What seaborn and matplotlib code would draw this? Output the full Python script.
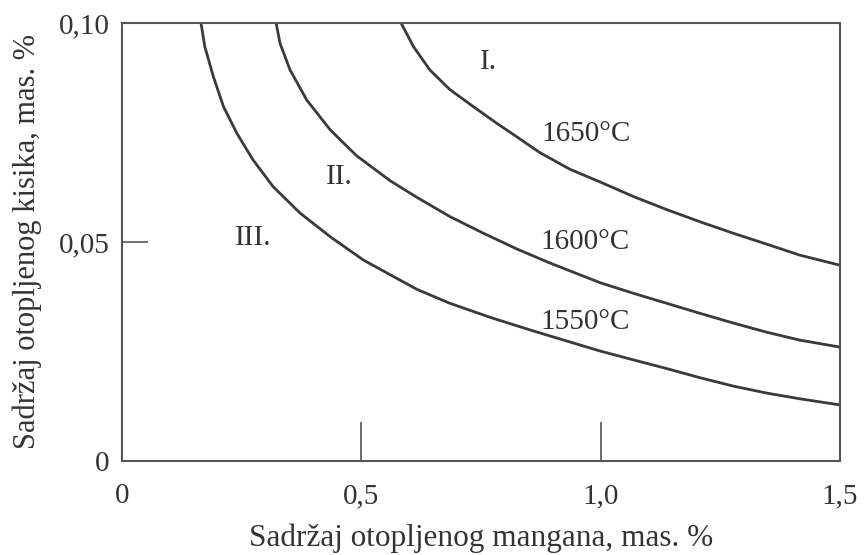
import pandas as pd
import seaborn as sns
import matplotlib.pyplot as plt

# Data
mn_1550 = [0.165, 0.173, 0.191, 0.212, 0.240, 0.274, 0.316, 0.372, 0.435, 0.504, 0.574,
           0.616, 0.685, 0.769, 0.859, 0.999, 1.068, 1.138, 1.208, 1.277, 1.347, 1.416, 1.500]
o_1550 = [0.1000, 0.0946, 0.0877, 0.0809, 0.0748, 0.0687, 0.0626, 0.0566, 0.0512, 0.0459, 0.0417,
          0.0392, 0.0360, 0.0328, 0.0297, 0.0251, 0.0231, 0.0211, 0.0190, 0.0171, 0.0155, 0.0142, 0.0128]

mn_1600 = [0.322, 0.330, 0.351, 0.386, 0.435, 0.490, 0.560, 0.616, 0.685, 0.755, 0.825,
           0.894, 0.999, 1.068, 1.138, 1.208, 1.277, 1.347, 1.416, 1.500]
o_1600 = [0.1000, 0.0954, 0.0893, 0.0824, 0.0756, 0.0697, 0.0640, 0.0602, 0.0558, 0.0520, 0.0484,
          0.0452, 0.0407, 0.0383, 0.0360, 0.0337, 0.0315, 0.0294, 0.0276, 0.0260]

mn_1650 = [0.583, 0.609, 0.643, 0.685, 0.734, 0.783, 0.825, 0.873, 0.936, 0.999,
           1.068, 1.138, 1.208, 1.277, 1.347, 1.416, 1.500]
o_1650 = [0.1000, 0.0946, 0.0893, 0.0848, 0.0809, 0.0771, 0.0740, 0.0704, 0.0666, 0.0637,
          0.0604, 0.0574, 0.0546, 0.0520, 0.0495, 0.0470, 0.0447]

temp_labels = ['1650°C', '1600°C', '1550°C']
temp_pos = [(0.969, 0.0746), (0.967, 0.0501), (0.967, 0.0318)]
region_labels = ['I.', 'II.', 'III.']
region_pos = [(0.765, 0.0912), (0.455, 0.0649), (0.274, 0.0508)]

x_ticks = [0, 0.5, 1.0, 1.5]
x_ticklabels = ['0', '0,5', '1,0', '1,5']
y_ticks = [0, 0.05, 0.10]
y_ticklabels = ['0', '0,05', '0,10']

rows = []
for name, xs, ys in [('1550', mn_1550, o_1550), ('1600', mn_1600, o_1600), ('1650', mn_1650, o_1650)]:
    for a, b in zip(xs, ys):
        rows.append({'T': name, 'Mn': a, 'O': b})
df = pd.DataFrame(rows)

sns.set_style('white')
plt.rcParams['font.family'] = ['Liberation Serif', 'DejaVu Serif']

fig = plt.figure(figsize=(8.66, 5.55), dpi=100)
ax = fig.add_axes([0.1409, 0.1694, 0.829, 0.7892])

line_col = '#3a3a3a'
text_col = '#333333'
for name in ['1550', '1600', '1650']:
    sns.lineplot(data=df[df['T'] == name], x='Mn', y='O', sort=False, estimator=None,
                 color=line_col, linewidth=2.0, ax=ax)

# region and temperature labels
for lab, (x, y) in zip(temp_labels, temp_pos):
    ax.text(x, y, lab, fontsize=21, color=text_col, ha='center', va='center')
for lab, (x, y) in zip(region_labels, region_pos):
    ax.text(x, y, lab, fontsize=21, color=text_col, ha='center', va='center')

ax.set_xlim(0, 1.5)
ax.set_ylim(0, 0.10)
ax.set_xticks(x_ticks)
ax.set_xticklabels(x_ticklabels)
ax.set_yticks(y_ticks)
ax.set_yticklabels(y_ticklabels)
ax.tick_params(axis='x', bottom=True, direction='in', length=28, width=1.2, color='#555555',
               labelsize=21, labelcolor=text_col, pad=16)
ax.tick_params(axis='y', left=True, direction='in', length=19, width=1.2, color='#555555',
               labelsize=21, labelcolor=text_col, pad=9)
for s in ax.spines.values():
    s.set_color('#555555')
    s.set_linewidth(1.5)

ax.set_xlabel('Sadržaj otopljenog mangana, mas. %', fontsize=22.5, color=text_col, labelpad=10)
ax.set_ylabel('Sadržaj otopljenog kisika, mas. %', fontsize=22, color=text_col, labelpad=12)

fig.savefig('out.png', dpi=100)
